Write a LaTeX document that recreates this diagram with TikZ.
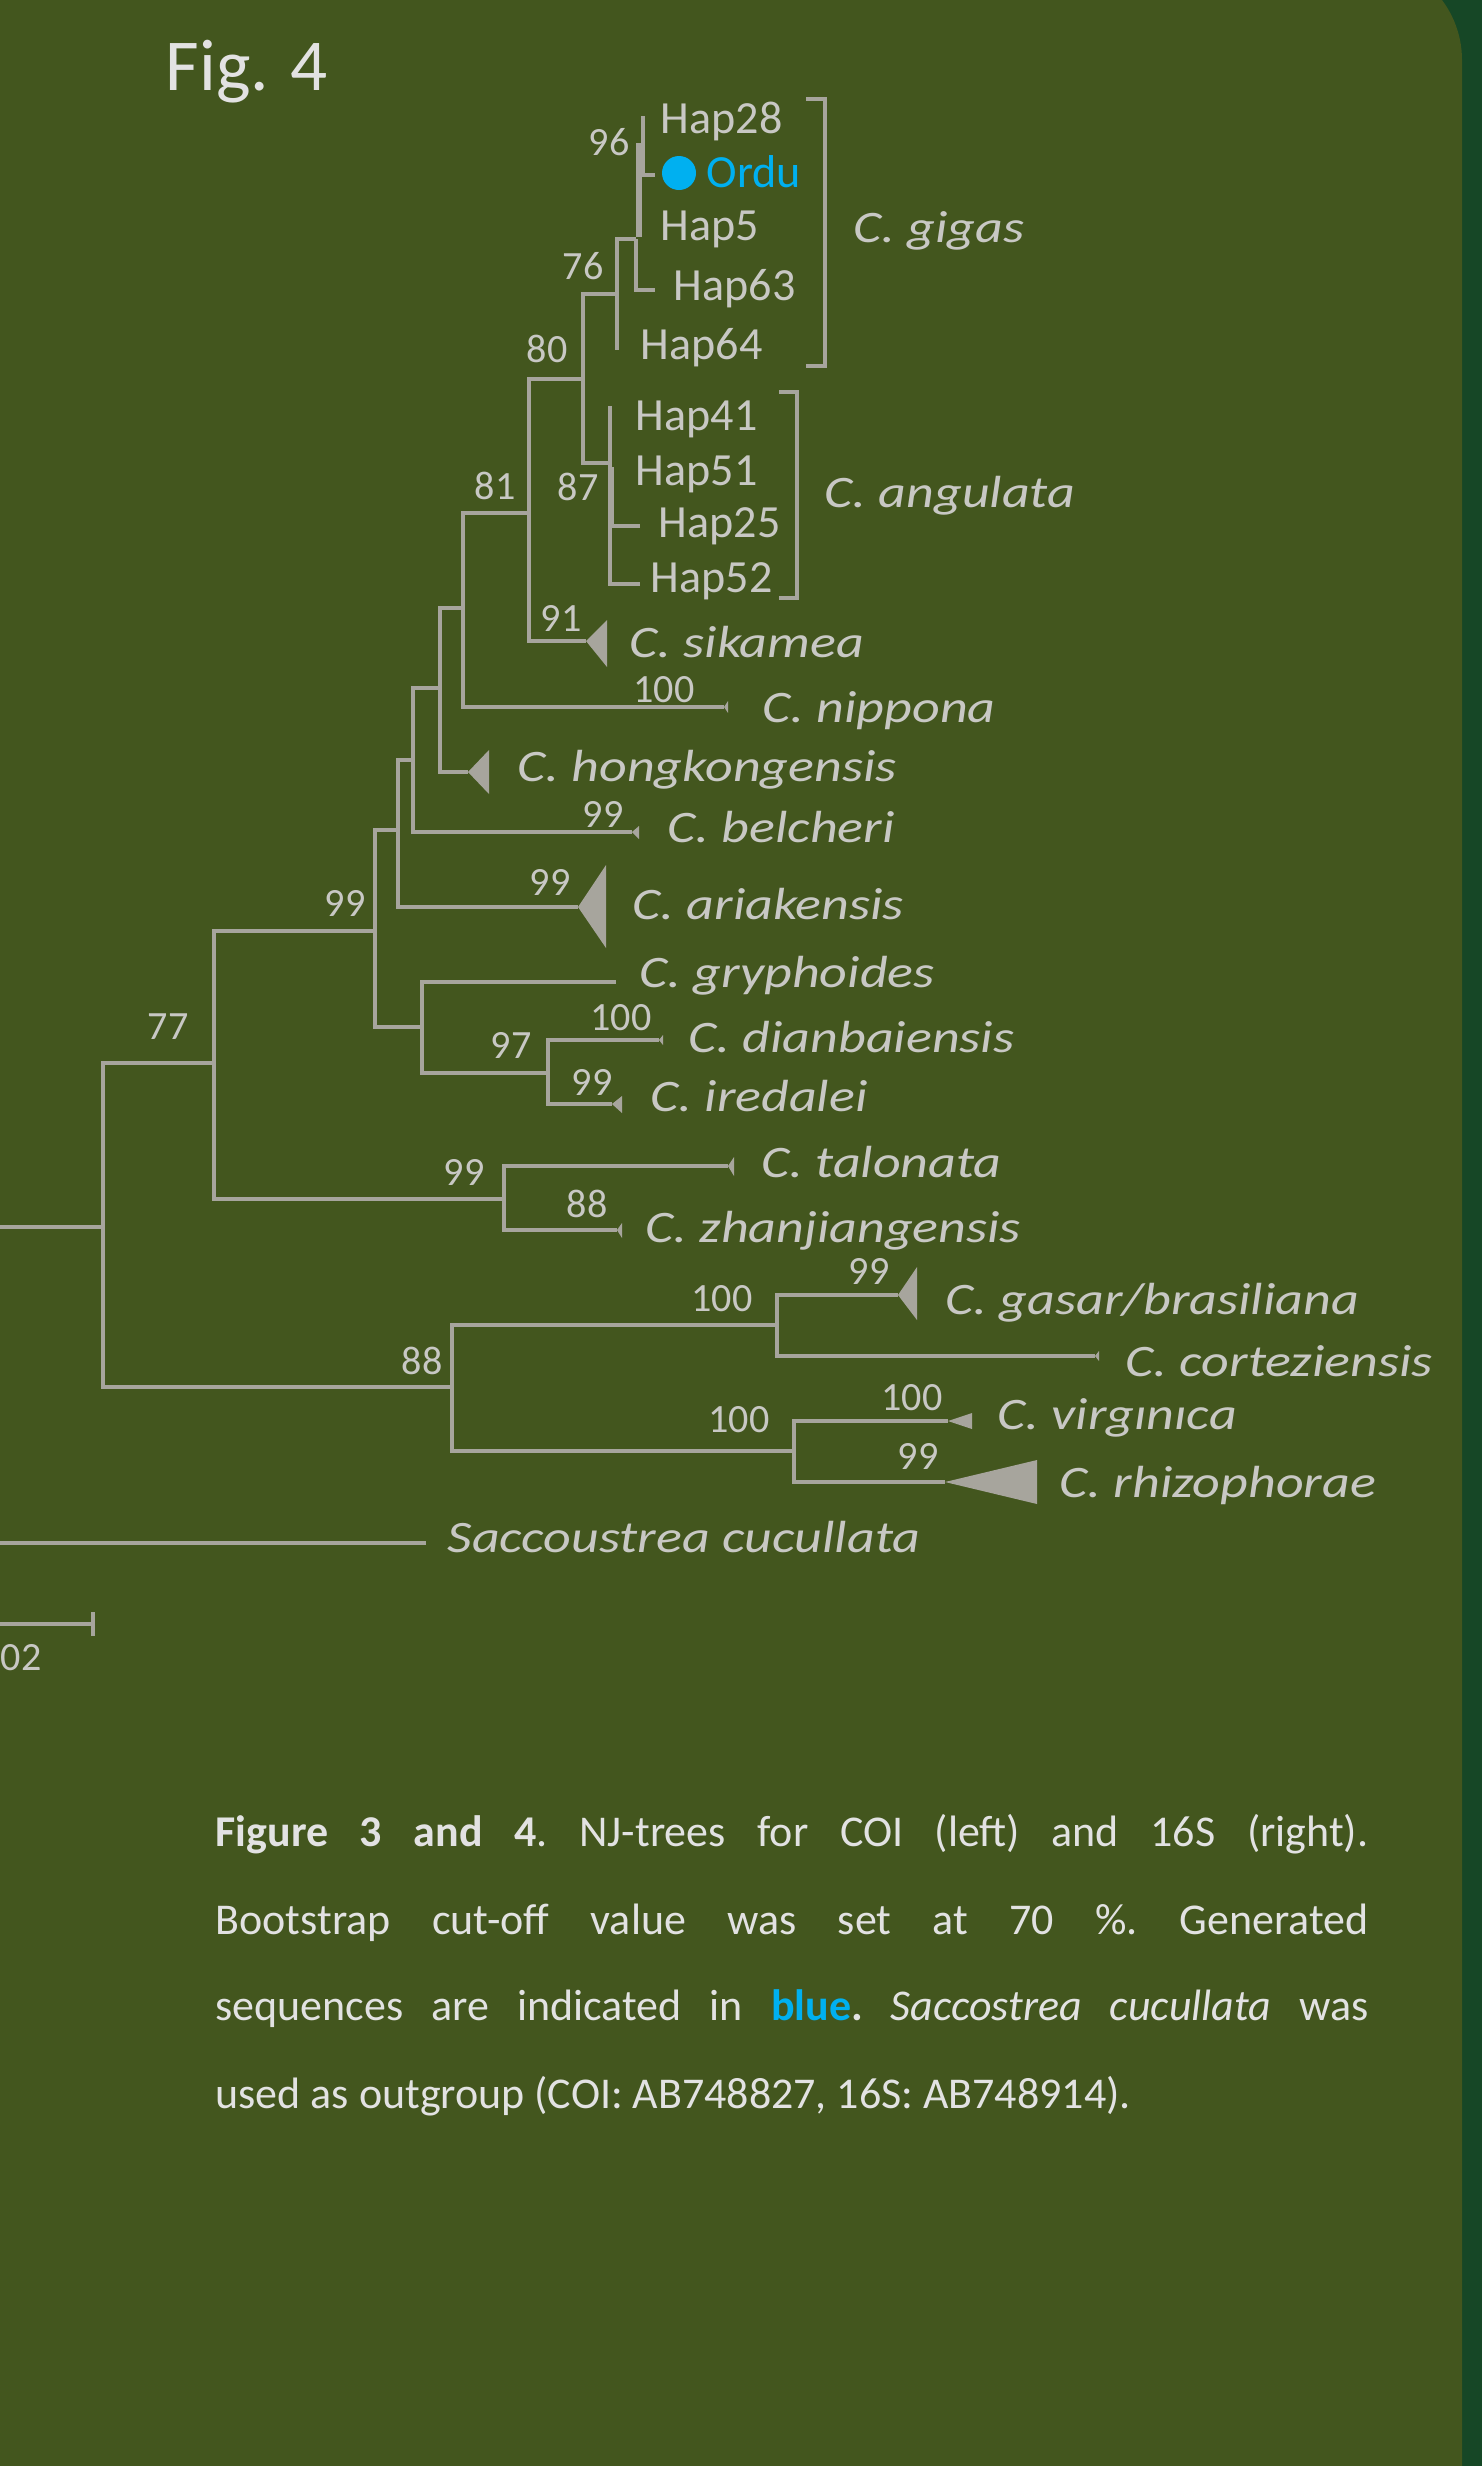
\documentclass[tikz,border=0pt]{standalone}
\usepackage{fontspec}
\setmainfont{Carlito}
\newfontfamily\spfont[FakeStretch=1.2]{Carlito}
\usepackage{xcolor}
\usepackage{tikz}

\definecolor{edgegreen}{HTML}{164726}
\definecolor{panelgreen}{HTML}{43561E}
\definecolor{branchgray}{HTML}{A7A59D}
\definecolor{labelgray}{HTML}{C8C8C4}
\definecolor{captiongray}{HTML}{E2E2E2}
\definecolor{seqblue}{HTML}{00B0F0}

\begin{document}
\begin{tikzpicture}[
  x=0.01cm, y=-0.01cm,
  br/.style={draw=branchgray, line width=0.9pt},
  brthick/.style={draw=branchgray, line width=1.6pt},
  clade/.style={fill=branchgray},
  hap/.style={anchor=base west, inner sep=0pt, text=labelgray, font=\fontsize{13.1}{15}\selectfont},
  boot/.style={anchor=base, inner sep=0pt, text=labelgray, font=\fontsize{11.4}{13}\selectfont},
  species/.style={anchor=base west, inner sep=0pt, text=labelgray, font=\spfont\itshape\fontsize{12.8}{15}\selectfont},
  capline/.style={anchor=base west, inner sep=0pt, text=captiongray, font=\fontsize{12.5}{15}\selectfont\frenchspacing},
]
\useasboundingbox (0,0) rectangle (1482,2466);
\clip (0,0) rectangle (1482,2466);
% background panel
\fill[edgegreen] (0,0) rectangle (1482,2466);
\fill[panelgreen] (-20,2490) -- (-20,-40) [rounded corners=1cm] -- (1462,-40) [sharp corners] -- (1462,2490) -- cycle;

\node[anchor=base west, inner sep=0pt, text=captiongray, font=\fontsize{20.8}{24}\selectfont] (title) at (165,90) {Fig. 4};

% internal nodes
\coordinate (root) at (-30,1385);
\coordinate (n77)  at (103,1227);
\coordinate (nA)   at (214,1063);
\coordinate (n99)  at (375,931);
\coordinate (nB)   at (398,830);
\coordinate (nC)   at (413,760);
\coordinate (nD)   at (440,688);
\coordinate (nE)   at (463,608);
\coordinate (n81)  at (529,513);
\coordinate (n80)  at (583,379);
\coordinate (n76)  at (617,294);
\coordinate (nF)   at (636,239);
\coordinate (n96)  at (643,146);
\coordinate (n87)  at (610,463);
\coordinate (nGry) at (422,1027);
\coordinate (n97)  at (548,1073);
\coordinate (nTal) at (504,1199);
\coordinate (n88)  at (452,1387);
\coordinate (nGas) at (777,1325);
\coordinate (nVir) at (794,1451);

% tips
\coordinate (t28)   at (643,116);
\coordinate (tOrdu) at (655,175);
\coordinate (t5)    at (639,237);
\coordinate (t63)   at (655,290);
\coordinate (t64)   at (617,350);
\coordinate (t41)   at (610,406);
\coordinate (t51)   at (611,467);
\coordinate (t25)   at (640,526);
\coordinate (t52)   at (640,584);
\coordinate (tSik)  at (586,641);
\coordinate (tNip)  at (724,707);
\coordinate (tHong) at (468,772);
\coordinate (tBel)  at (632,832);
\coordinate (tAri)  at (578,907);
\coordinate (tGry)  at (616,982);
\coordinate (tDia)  at (659,1040);
\coordinate (tIre)  at (612,1104);
\coordinate (tTal)  at (728,1166);
\coordinate (tZha)  at (617,1230);
\coordinate (tGas)  at (898,1295);
\coordinate (tCor)  at (1095,1356);
\coordinate (tVir)  at (948,1421);
\coordinate (tRhi)  at (945,1482);
\coordinate (tSac)  at (426,1543);

% branches
\draw[br] (root) |- (n77);
\draw[br] (root) |- (tSac);
\draw[br] (n77) |- (nA);
\draw[br] (n77) |- (n88);
\draw[br] (nA) |- (n99);
\draw[br] (nA) |- (nTal);
\draw[br] (n99) |- (nB);
\draw[br] (n99) |- (nGry);
\draw[br] (nB) |- (nC);
\draw[br] (nB) |- (tAri);
\draw[br] (nC) |- (nD);
\draw[br] (nC) |- (tBel);
\draw[br] (nD) |- (nE);
\draw[br] (nD) |- (tHong);
\draw[br] (nE) |- (n81);
\draw[br] (nE) |- (tNip);
\draw[br] (n81) |- (n80);
\draw[br] (n81) |- (tSik);
\draw[br] (n80) |- (n76);
\draw[br] (n80) |- (n87);
\draw[br] (n76) |- (nF);
\draw[br] (n76) -- (t64);
\draw[br] (nF) |- (t63);
\draw[brthick] (t5) |- (n96);
\draw[br] (n96) -- (t28);
\draw[br] (n96) |- (tOrdu);
\draw[br] (n87) -- (t41);
\draw[br] (n87) |- (t52);
\draw[brthick] (t51) -- (t51 |- t25);
\draw[br] (t51 |- t25) -- (t25);
\draw[br] (nGry) |- (tGry);
\draw[br] (nGry) |- (n97);
\draw[br] (n97) |- (tDia);
\draw[br] (n97) |- (tIre);
\draw[br] (nTal) |- (tTal);
\draw[br] (nTal) |- (tZha);
\draw[br] (n88) |- (nGas);
\draw[br] (n88) |- (nVir);
\draw[br] (nGas) |- (tGas);
\draw[br] (nGas) |- (tCor);
\draw[br] (nVir) |- (tVir);
\draw[br] (nVir) |- (tRhi);

% collapsed clades
\fill[clade] (tSik)  -- ++(21,-21) -- ++(0,47) -- cycle;
\fill[clade] (tNip)  -- ++(4,-6)   -- ++(0,12) -- cycle;
\fill[clade] (tHong) -- ++(21,-22) -- ++(0,44) -- cycle;
\fill[clade] (tBel)  -- ++(7,-6)   -- ++(0,13) -- cycle;
\fill[clade] (tAri)  -- ++(28,-42) -- ++(0,83) -- cycle;
\fill[clade] (tDia)  -- ++(4,-5)   -- ++(0,10) -- cycle;
\fill[clade] (tIre)  -- ++(10,-8)  -- ++(0,17) -- cycle;
\fill[clade] (tTal)  -- ++(6,-9)   -- ++(0,19) -- cycle;
\fill[clade] (tZha)  -- ++(5,-7)   -- ++(0,15) -- cycle;
\fill[clade] (tGas)  -- ++(19,-28) -- ++(0,53) -- cycle;
\fill[clade] (tCor)  -- ++(4,-5)   -- ++(0,10) -- cycle;
\fill[clade] (tVir)  -- ++(24,-8)  -- ++(0,16) -- cycle;
\fill[clade] (tRhi)  -- ++(92,-22) -- ++(0,44) -- cycle;

% haplotypes
\node[hap] (h28) at (660,133) {Hap28};
\fill[seqblue] (679,173) circle[radius=17];
\node[hap, text=seqblue] (ordu) at (706,187) {Ordu};
\node[hap] (h5)  at (660,240) {Hap5};
\node[hap] (h63) at (673,300) {Hap63};
\node[hap] (h64) at (640,359) {Hap64};
\node[hap] (h41) at (635,430) {Hap41};
\node[hap] (h51) at (635,485) {Hap51};
\node[hap] (h25) at (658,537) {Hap25};
\node[hap] (h52) at (650,592) {Hap52};

% brackets
\draw[br] (806,99) -- (825,99) -- (825,366) -- (806,366);
\draw[br] (779,392) -- (797,392) -- (797,598) -- (779,598);

% species
\node[species] (gig) at (853,242)  {C. gigas};
\node[species] (ang) at (824,507)  {C. angulata};
\node[species] (sik) at (629,657)  {C. sikamea};
\node[species] (nip) at (762,722)  {C. nippona};
\node[species] (hon) at (517,781)  {C. hongkongensis};
\node[species] (bel) at (667,842)  {C. belcheri};
\node[species] (ari) at (632,919)  {C. ariakensis};
\node[species] (gry) at (639,987)  {C. gryphoides};
\node[species] (dia) at (688,1052) {C. dianbaiensis};
\node[species] (ire) at (650,1111) {C. iredalei};
\node[species] (tal) at (761,1177) {C. talonata};
\node[species] (zha) at (645,1242) {C. zhanjiangensis};
\node[species] (gas) at (945,1314) {C. gasar/brasiliana};
\node[species] (cor) at (1125,1376) {C. corteziensis};
\node[species] (vir) at (997,1429) {C. virgınıca};
\node[species] (rhi) at (1059,1497) {C. rhizophorae};
\node[species] (sac) at (447,1552) {Saccoustrea cucullata};

% bootstrap values
\node[boot] (b96)  at (609,155)  {96};
\node[boot] (b76)  at (583,279)  {76};
\node[boot] (b80)  at (547,362)  {80};
\node[boot] (b81)  at (495,499)  {81};
\node[boot] (b87)  at (578,500)  {87};
\node[boot] (b91)  at (561,631)  {91};
\node[boot] (bNip) at (664,702)  {100};
\node[boot] (bBel) at (603,827)  {99};
\node[boot] (bAri) at (550,895)  {99};
\node[boot] (b99)  at (345,916)  {99};
\node[boot] (bDia) at (621,1030) {100};
\node[boot] (b97)  at (511,1058) {97};
\node[boot] (bIre) at (592,1095) {99};
\node[boot] (b77)  at (168,1039) {77};
\node[boot] (bTal) at (464,1185) {99};
\node[boot] (bZha) at (587,1217) {88};
\node[boot] (bGn)  at (722,1311) {100};
\node[boot] (bGas) at (869,1284) {99};
\node[boot] (b88)  at (422,1374) {88};
\node[boot] (bVn)  at (739,1432) {100};
\node[boot] (bVir) at (912,1410) {100};
\node[boot] (bRhi) at (918,1469) {99};

% scale bar
\coordinate (sb0) at (-97,1624);
\coordinate (sb1) at (93,1624);
\draw[br] (sb0) -- (sb1);
\draw[br] (sb1) ++(0,-12) -- ++(0,24);
\node[boot, anchor=base west] (sblab) at (0,1670) {02};

% caption
\node[capline] (cap1) at (215,1846) {\makebox[11.52cm][s]{\textbf{Figure 3 and 4}. NJ-trees for COI (left) and 16S (right).}};
\node[capline] (cap2) at (215,1934) {\makebox[11.52cm][s]{Bootstrap cut-off value was set at 70 \%. Generated}};
\node[capline] (cap3) at (215,2020) {\makebox[11.52cm][s]{sequences are indicated in \textbf{\textcolor{seqblue}{blue}.} \textit{Saccostrea cucullata} was}};
\node[capline] (cap4) at (215,2108) {used as outgroup (COI: AB748827, 16S: AB748914).};
\end{tikzpicture}
\end{document}
